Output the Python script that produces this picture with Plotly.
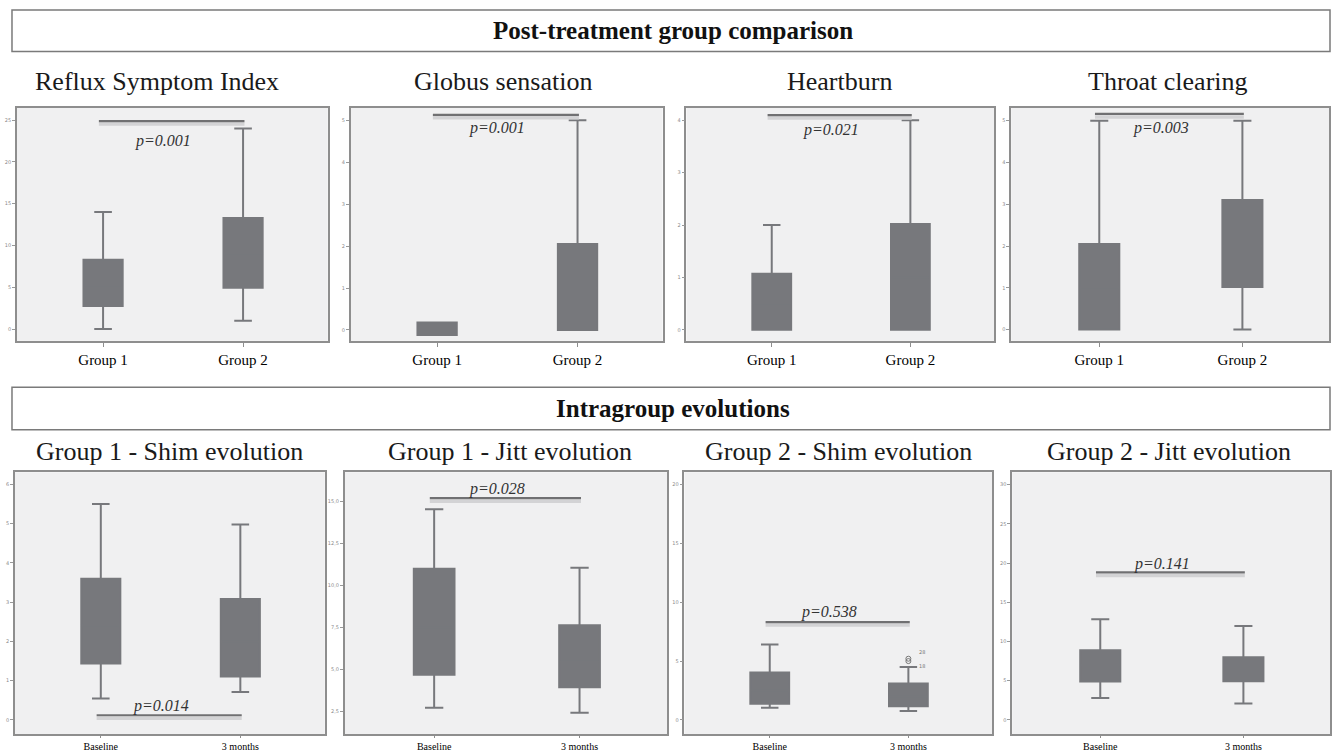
import plotly.graph_objects as go

W, H = 1332, 752

# ---------------- data ----------------
titles = ["Reflux Symptom Index", "Globus sensation", "Heartburn", "Throat clearing",
          "Group 1 - Shim evolution", "Group 1 - Jitt evolution",
          "Group 2 - Shim evolution", "Group 2 - Jitt evolution"]
cats_top = ["Group 1", "Group 2"]
cats_bottom = ["Baseline", "3 months"]

# box statistics per panel: [first category, second category]
rsi_low, rsi_q1, rsi_med, rsi_q3, rsi_up = [0.0, 1.0], [2.75, 4.95], [5.0, 9.0], [8.3, 13.3], [14.0, 24.0]
glo_low, glo_q1, glo_med, glo_q3, glo_up = [-0.12, 0.0], [-0.12, 0.0], [0.0, 1.0], [0.18, 2.05], [0.18, 5.0]
hea_low, hea_q1, hea_med, hea_q3, hea_up = [0.0, 0.0], [0.0, 0.0], [0.5, 1.0], [1.07, 2.02], [2.0, 4.0]
thr_low, thr_q1, thr_med, thr_q3, thr_up = [0.0, 0.0], [0.0, 1.02], [1.0, 2.0], [2.05, 3.1], [5.0, 5.0]
g1s_low, g1s_q1, g1s_med, g1s_q3, g1s_up = [0.55, 0.71], [1.44, 1.11], [2.4, 2.0], [3.6, 3.08], [5.5, 4.98]
g1j_low, g1j_q1, g1j_med, g1j_q3, g1j_up = [2.73, 2.44], [4.69, 3.95], [7.5, 5.5], [10.99, 7.63], [14.53, 11.05]
g2s_low, g2s_q1, g2s_med, g2s_q3, g2s_up = [1.03, 0.76], [1.37, 1.17], [2.5, 2.0], [4.03, 3.1], [6.41, 4.5]
g2j_low, g2j_q1, g2j_med, g2j_q3, g2j_up = [2.81, 2.1], [4.91, 4.95], [7.0, 6.5], [8.9, 8.0], [12.84, 11.96]

g2s_outlier_y = [5.0, 5.2]
g2s_outlier_ids = ["28", "18"]
g2s_outlier_label_y = [5.7, 4.5]

sig_level = [24.9, 5.13, 4.1, 5.16, 0.12, 15.18, 8.31, 18.8]
p_labels = ["p=0.001", "p=0.001", "p=0.021", "p=0.003",
            "p=0.014", "p=0.028", "p=0.538", "p=0.141"]

yranges = [[-1.42, 26.5], [-0.26, 5.3], [-0.21, 4.24], [-0.27, 5.31],
           [-0.36, 6.31], [1.17, 16.72], [-1.2, 21.03], [-1.8, 31.56]]
ytickvals = [[0, 5, 10, 15, 20, 25], [0, 1, 2, 3, 4, 5], [0, 1, 2, 3, 4], [0, 1, 2, 3, 4, 5],
             [0, 1, 2, 3, 4, 5, 6], [2.5, 5.0, 7.5, 10.0, 12.5, 15.0], [0, 5, 10, 15, 20],
             [0, 5, 10, 15, 20, 25, 30]]
yticktext = [["0", "5", "10", "15", "20", "25"], ["0", "1", "2", "3", "4", "5"],
             ["0", "1", "2", "3", "4"], ["0", "1", "2", "3", "4", "5"],
             ["0", "1", "2", "3", "4", "5", "6"], ["2,5", "5,0", "7,5", "10,0", "12,5", "15,0"],
             ["0", "5", "10", "15", "20"], ["0", "5", "10", "15", "20", "25", "30"]]

stats = [
    (rsi_low, rsi_q1, rsi_med, rsi_q3, rsi_up),
    (glo_low, glo_q1, glo_med, glo_q3, glo_up),
    (hea_low, hea_q1, hea_med, hea_q3, hea_up),
    (thr_low, thr_q1, thr_med, thr_q3, thr_up),
    (g1s_low, g1s_q1, g1s_med, g1s_q3, g1s_up),
    (g1j_low, g1j_q1, g1j_med, g1j_q3, g1j_up),
    (g2s_low, g2s_q1, g2s_med, g2s_q3, g2s_up),
    (g2j_low, g2j_q1, g2j_med, g2j_q3, g2j_up),
]

# ---------------- layout geometry (pixels) ----------------
x_px = [(17, 328), (351, 663), (687, 995), (1012, 1330),
        (15, 325), (345, 668), (685, 993), (1013, 1331)]
top_row_y = (109, 345)
bot_row_y = (478, 743)
sub_cx = [157, 503, 840, 1169, 170, 510, 839, 1170]
p_shift = [-20, -13, -15, -14, 9, 9, 10, 8]

BOX_GRAY = "#77787c"
FRAME = "#8e8e8e"
SERIF = "Liberation Serif"

fig = go.Figure()
layout = dict(
    width=W, height=H,
    margin=dict(l=0, r=0, t=0, b=0),
    paper_bgcolor="white",
    plot_bgcolor="#f0f0f1",
    showlegend=False,
    font=dict(family=SERIF, color="black"),
)
shapes = []
annotations = []

for i in range(8):
    n = i + 1
    xa = "x" if n == 1 else f"x{n}"
    ya = "y" if n == 1 else f"y{n}"
    cats = cats_top if i < 4 else cats_bottom
    ry = top_row_y if i < 4 else bot_row_y
    low, q1, med, q3, up = stats[i]
    fig.add_trace(go.Box(
        x=[0, 1], q1=q1, median=med, q3=q3, lowerfence=low, upperfence=up,
        fillcolor=BOX_GRAY, line=dict(color=BOX_GRAY, width=2),
        width=0.28, whiskerwidth=0.45, boxpoints=False,
        xaxis=xa, yaxis=ya, hoverinfo="skip",
    ))
    xd = [x_px[i][0] / W, x_px[i][1] / W]
    yd = [1 - ry[1] / H, 1 - ry[0] / H]
    layout["xaxis" if n == 1 else f"xaxis{n}"] = dict(
        domain=xd, anchor=ya, range=[-0.615, 1.605],
        tickvals=[0, 1], ticktext=cats,
        showline=True, mirror=True, linecolor=FRAME, linewidth=1.5,
        ticks="outside", ticklen=4 if i < 4 else 2, tickcolor=FRAME,
        tickfont=dict(family=SERIF, size=15 if i < 4 else 10, color="black"),
        showgrid=False, zeroline=False, fixedrange=True,
    )
    layout["yaxis" if n == 1 else f"yaxis{n}"] = dict(
        domain=yd, anchor=xa, range=yranges[i],
        tickvals=ytickvals[i], ticktext=yticktext[i],
        showline=True, mirror=True, linecolor=FRAME, linewidth=1.5,
        ticks="outside", ticklen=3, tickcolor="#999999",
        tickfont=dict(family="DejaVu Sans", size=5, color="#8a8a8a"),
        showgrid=False, zeroline=False, fixedrange=True,
    )
    # significance bar with soft shadow
    shapes.append(dict(type="line", xref=xa, yref=ya, x0=-0.03, x1=1.01,
                       ysizemode="pixel", yanchor=sig_level[i], y0=-3, y1=-3,
                       line=dict(color="#d3d3d5", width=3.5)))
    shapes.append(dict(type="line", xref=xa, yref=ya, x0=-0.03, x1=1.01,
                       y0=sig_level[i], y1=sig_level[i],
                       line=dict(color="#707072", width=2.2)))
    annotations.append(dict(text=f"<i>{p_labels[i]}</i>", xref=xa, yref=ya,
                            x=0.43, y=sig_level[i], yshift=p_shift[i],
                            xanchor="center", yanchor="middle",
                            showarrow=False, font=dict(family=SERIF, size=16, color="#333333")))
    # subtitle
    sub_y = 82 if i < 4 else 457
    annotations.append(dict(text=titles[i], xref="paper", yref="paper",
                            x=sub_cx[i] / W, y=1 - sub_y / H, showarrow=False,
                            xanchor="center", yanchor="middle",
                            font=dict(family=SERIF, size=26, color="#1a1a1a")))

# outliers in Group 2 - Shim evolution
fig.add_trace(go.Scatter(x=[1, 1], y=g2s_outlier_y, mode="markers",
                         marker=dict(symbol="circle-open", size=5, color="#777777", line=dict(width=1)),
                         xaxis="x7", yaxis="y7", hoverinfo="skip"))
fig.add_trace(go.Scatter(x=[1.1, 1.1], y=g2s_outlier_label_y, mode="text",
                         text=g2s_outlier_ids, textfont=dict(family="DejaVu Sans", size=5, color="#777777"),
                         xaxis="x7", yaxis="y7", hoverinfo="skip"))

# header boxes
for (y0, y1, label) in [(10, 52, "Post-treatment group comparison"),
                        (392, 435, "Intragroup evolutions")]:
    shapes.append(dict(type="rect", xref="paper", yref="paper",
                       x0=12 / W, x1=1331 / W, y0=1 - y1 / H, y1=1 - y0 / H,
                       line=dict(color="#7a7a7a", width=1.5), fillcolor="white", layer="below"))
    annotations.append(dict(text=f"<b>{label}</b>", xref="paper", yref="paper",
                            x=674 / W, y=1 - ((y0 + y1) / 2) / H, showarrow=False,
                            xanchor="center", yanchor="middle",
                            font=dict(family=SERIF, size=25, color="#111111")))

layout["shapes"] = shapes
layout["annotations"] = annotations
fig.update_layout(**layout)
fig.write_html("out.html", config={"displayModeBar": False},
               post_script="document.body.style.margin='0';document.body.style.overflow='hidden';")
